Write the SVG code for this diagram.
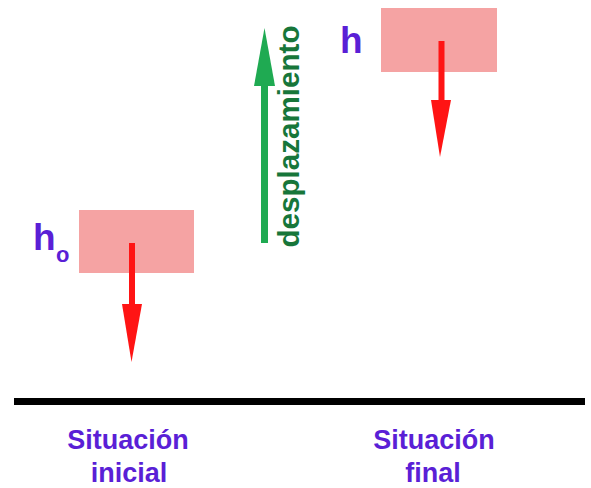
<svg xmlns="http://www.w3.org/2000/svg" width="591" height="488" viewBox="0 0 591 488">
  <style>
    .box { fill: #f5a3a3; }
    .lbl { font-family: "Liberation Sans", Arial, sans-serif; font-weight: bold; fill: #5a1fd6; }
    .red { fill: #ff1414; }
    .green { fill: #1faa52; }
    .disp { font-family: "Liberation Sans", Arial, sans-serif; font-weight: bold; fill: #17763a; font-size: 29px; }
  </style>
  <rect width="591" height="488" fill="#ffffff"/>

  <g id="node-initial">
    <rect class="box" x="79" y="210" width="115" height="63"/>
    <text class="lbl" x="33" y="250" font-size="37">h</text>
    <text class="lbl" x="56" y="262" font-size="22">o</text>
  </g>

  <g id="node-final">
    <rect class="box" x="381" y="8" width="116" height="64"/>
    <text class="lbl" x="340" y="53" font-size="37">h</text>
  </g>

  <g id="connectors">
    <g id="weight-initial">
      <rect class="red" x="129" y="243" width="6" height="63"/>
      <polygon class="red" points="122,304 142,304 131.5,362"/>
    </g>
    <g id="weight-final">
      <rect class="red" x="438.5" y="41" width="6" height="61"/>
      <polygon class="red" points="431,100 451,100 440,157"/>
    </g>
    <g id="displacement">
      <rect class="green" x="261" y="83" width="7" height="160"/>
      <polygon class="green" points="254,86 275,86 264.5,28"/>
      <text class="disp" transform="translate(299,136.5) rotate(-90)" text-anchor="middle" textLength="222" lengthAdjust="spacingAndGlyphs">desplazamiento</text>
    </g>
  </g>

  <g id="ground">
    <rect x="14" y="398" width="571" height="7" fill="#000000"/>
  </g>

  <g id="label-initial">
    <text class="lbl" x="128" y="449" font-size="27" text-anchor="middle">Situación</text>
    <text class="lbl" x="129" y="482" font-size="27" text-anchor="middle">inicial</text>
  </g>
  <g id="label-final">
    <text class="lbl" x="434" y="449" font-size="27" text-anchor="middle">Situación</text>
    <text class="lbl" x="433" y="482" font-size="27" text-anchor="middle">final</text>
  </g>
</svg>
